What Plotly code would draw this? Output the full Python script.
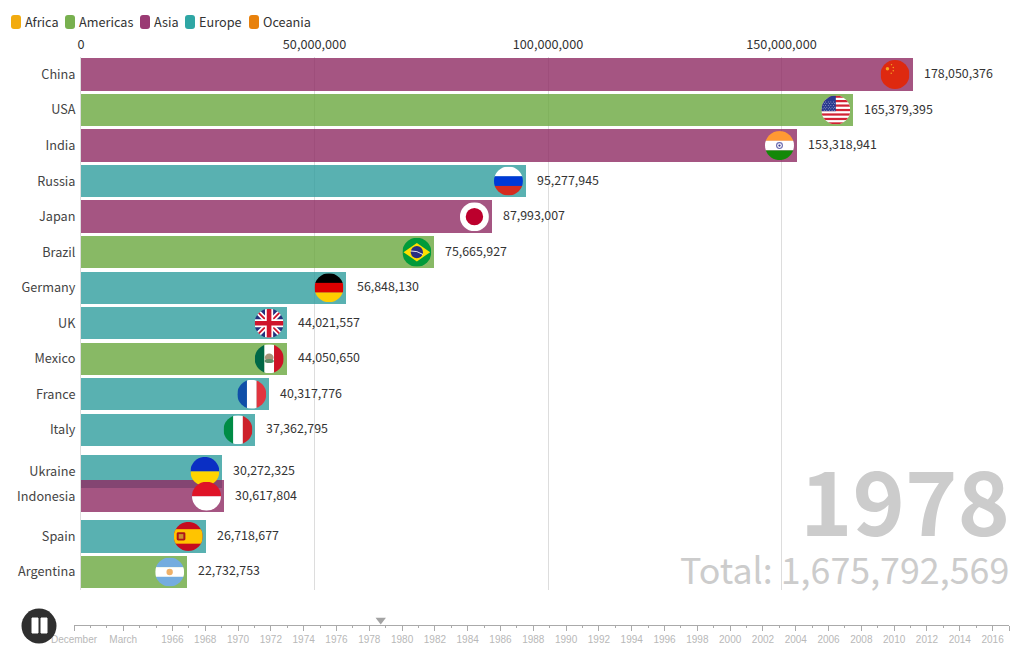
# -*- coding: utf-8 -*-
import base64
import plotly.graph_objects as go

# frame of the bar chart race at 1978
countries = ["China", "USA", "India", "Russia", "Japan", "Brazil", "Germany", "UK", "Mexico",
             "France", "Italy", "Ukraine", "Indonesia", "Spain", "Argentina"]
values = [178050376, 165379395, 153318941, 95277945, 87993007, 75665927, 56848130, 44021557, 44050650,
          40317776, 37362795, 30272325, 30617804, 26718677, 22732753]
regions = ["Asia", "Americas", "Asia", "Europe", "Asia", "Americas", "Europe", "Europe", "Americas",
           "Europe", "Europe", "Europe", "Asia", "Europe", "Americas"]
# ranks are fractional because the race is caught mid-transition
ranks = [0, 1, 2, 3, 4, 5, 6, 7, 8, 9, 10, 11.17, 11.87, 13, 14]

region_names = ["Africa", "Americas", "Asia", "Europe", "Oceania"]
region_colors = ["#f2ab0f", "#78b04f", "#9a3a73", "#2fa6a4", "#e8810c"]
bar_colors = {"Africa": "#f2ab0f", "Americas": "#6aa83e", "Asia": "#8e2a63", "Europe": "#2f9d9d", "Oceania": "#e8810c"}

x_ticks = [0, 50000000, 100000000, 150000000]
year = "1978"
total_label = "Total: 1,675,792,569"

timeline_major = [1960, 1963, 1966, 1968, 1970, 1972, 1974, 1976, 1978, 1980, 1982, 1984, 1986, 1988, 1990,
                  1992, 1994, 1996, 1998, 2000, 2002, 2004, 2006, 2008, 2010, 2012, 2014, 2016, 2017]
timeline_labels = ["December", "March", "1966", "1968", "1970", "1972", "1974", "1976", "1978", "1980", "1982",
                   "1984", "1986", "1988", "1990", "1992", "1994", "1996", "1998", "2000", "2002", "2004",
                   "2006", "2008", "2010", "2012", "2014", "2016", ""]
timeline_minor = [1961, 1962, 1964, 1965, 1967, 1969, 1971, 1973, 1975, 1977, 1979, 1981, 1983, 1985, 1987,
                  1989, 1991, 1993, 1995, 1997, 1999, 2001, 2003, 2005, 2007, 2009, 2011, 2013, 2015]
timeline_now = 1978.7

W, H = 1020, 650
ML, MR, MT, MB = 74, 11, 57, 25
FONT = "Noto Sans CJK SC"
TEXT_SIZE = 12.7
VALUE_SIZE = 12.4
PX_PER_UNIT = 233.5 / 50000000
FLAG_PX = 29


def px(x):
    return (x - ML) / (W - ML - MR)


def py(y):
    return 1 - (y - MT) / (H - MT - MB)


def stripes_h(*cols):
    h = 100 / len(cols)
    return "".join(f'<rect y="{i*h}" width="100" height="{h+0.5}" fill="{c}"/>' for i, c in enumerate(cols))


def stripes_v(*cols):
    w = 100 / len(cols)
    return "".join(f'<rect x="{i*w}" width="{w+0.5}" height="100" fill="{c}"/>' for i, c in enumerate(cols))


usa = '<rect width="100" height="100" fill="#fff"/>' + "".join(
    f'<rect y="{i*15.4}" width="100" height="7.7" fill="#d22234"/>' for i in range(7))
usa += '<rect width="50" height="54" fill="#2a3a8f"/>' + "".join(
    f'<circle cx="{6+c*9+(r%2)*4}" cy="{22+r*6}" r="1.5" fill="#fff"/>' for r in range(6) for c in range(5))

FLAGS = {
    "China": '<rect width="100" height="100" fill="#de2910"/>'
             '<circle cx="24" cy="30" r="6" fill="#f5a623"/><circle cx="38" cy="16" r="2.5" fill="#f5a623"/>'
             '<circle cx="44" cy="26" r="2.5" fill="#f5a623"/><circle cx="44" cy="37" r="2.5" fill="#f5a623"/>'
             '<circle cx="37" cy="46" r="2.5" fill="#f5a623"/>',
    "USA": usa,
    "India": stripes_h("#ff9933", "#fff", "#138808") +
             '<circle cx="50" cy="50" r="12" fill="#6c6cb0"/><circle cx="50" cy="50" r="8" fill="#fff"/>'
             '<circle cx="50" cy="50" r="4" fill="#3a3a90"/>',
    "Russia": stripes_h("#fff", "#0039d6", "#d52b1e"),
    "Japan": '<rect width="100" height="100" fill="#fff"/><circle cx="50" cy="50" r="30" fill="#bc002d"/>',
    "Brazil": '<rect width="100" height="100" fill="#009b3a"/><path d="M50 18 L96 50 L50 82 L4 50 Z" fill="#fedf00"/>'
              '<circle cx="50" cy="50" r="21" fill="#2a2f80"/>'
              '<path d="M29 46 Q50 44 71 58" stroke="#fff" stroke-width="3" fill="none"/>',
    "Germany": stripes_h("#000", "#dd0000", "#ffce00"),
    "UK": '<rect width="100" height="100" fill="#23307e"/>'
          '<path d="M0 0 L100 100 M100 0 L0 100" stroke="#fff" stroke-width="18"/>'
          '<path d="M0 0 L100 100 M100 0 L0 100" stroke="#cf142b" stroke-width="6"/>'
          '<path d="M50 0 V100 M0 50 H100" stroke="#fff" stroke-width="28"/>'
          '<path d="M50 0 V100 M0 50 H100" stroke="#cf142b" stroke-width="16"/>',
    "Mexico": stripes_v("#006847", "#fff", "#ce1126") +
              '<ellipse cx="50" cy="46" rx="15" ry="14" fill="#a8957a"/><ellipse cx="50" cy="58" rx="16" ry="7" fill="#5f8f6a"/>',
    "France": stripes_v("#0f4fa8", "#fff", "#e1353f"),
    "Italy": stripes_v("#008c45", "#fff", "#cd212a"),
    "Ukraine": stripes_h("#0a2fc4", "#ffd500"),
    "Indonesia": stripes_h("#df1327", "#fff"),
    "Spain": '<rect width="100" height="100" fill="#c60b1e"/><rect y="25" width="100" height="50" fill="#ffc400"/>'
             '<rect x="10" y="36" width="30" height="28" rx="5" fill="#ad1519"/>'
             '<rect x="17" y="42" width="16" height="16" fill="#c9922e"/>',
    "Argentina": stripes_h("#74acdf", "#fff", "#74acdf") + '<circle cx="50" cy="50" r="11" fill="#f0b168"/>',
}


def flag_source(body):
    svg = ('<svg xmlns="http://www.w3.org/2000/svg" viewBox="0 0 100 100">'
           '<defs><clipPath id="c"><circle cx="50" cy="50" r="50"/></clipPath></defs>'
           f'<g clip-path="url(#c)">{body}</g></svg>')
    return "data:image/svg+xml;base64," + base64.b64encode(svg.encode()).decode()


x_max = (W - MR - 81) / PX_PER_UNIT
y_step = (590 - MT) / 15
y_top = -(74.5 - MT) / y_step
y_bottom = y_top + 15

fig = go.Figure()
fig.add_trace(go.Bar(
    x=values, y=ranks, orientation="h", width=0.91,
    marker=dict(color=[bar_colors[r] for r in regions], opacity=0.8, line_width=0),
    customdata=countries, hovertemplate="%{customdata}: %{x:,}<extra></extra>",
    showlegend=False,
))
# timeline marker, on its own little axis pair under the chart
fig.add_trace(go.Scatter(
    x=[timeline_now], y=[0.2], xaxis="x2", yaxis="y2", mode="markers", hoverinfo="skip",
    marker=dict(symbol="triangle-down", size=9, color="#a3a3a3"), showlegend=False,
))

images = []
for name, val, rk in zip(countries, values, ranks):
    images.append(dict(
        source=flag_source(FLAGS[name]), xref="x", yref="y",
        x=val - 3 / PX_PER_UNIT, y=rk, xanchor="right", yanchor="middle",
        sizex=FLAG_PX / PX_PER_UNIT, sizey=FLAG_PX / y_step, sizing="stretch", layer="above",
    ))

annotations = []
for val, rk in zip(values, ranks):
    annotations.append(dict(
        x=val, y=rk, xref="x", yref="y", text=f"{val:,}", showarrow=False, xanchor="left", xshift=9, yshift=1.5,
        font=dict(family=FONT, size=VALUE_SIZE, color="#333333"),
    ))
annotations.append(dict(
    x=px(1012), y=py(497), xref="paper", yref="paper", text=f"<b>{year}</b>", showarrow=False,
    xanchor="right", yanchor="middle", font=dict(family=FONT, size=89, color="#cccccc"),
))
annotations.append(dict(
    x=px(1011), y=py(568), xref="paper", yref="paper", text=total_label, showarrow=False,
    xanchor="right", yanchor="middle", font=dict(family=FONT, size=35.8, color="#cccccc"),
))

# legend is drawn by hand because the swatches are rounded
shapes = []
swatch_left = [11, 65, 140, 185, 249]
for name, col, left in zip(region_names, region_colors, swatch_left):
    x0, x1, y0, y1, r = left, left + 10, 15, 29, 3
    path = (f"M{px(x0+r)} {py(y0)} L{px(x1-r)} {py(y0)} Q{px(x1)} {py(y0)} {px(x1)} {py(y0+r)} "
            f"L{px(x1)} {py(y1-r)} Q{px(x1)} {py(y1)} {px(x1-r)} {py(y1)} L{px(x0+r)} {py(y1)} "
            f"Q{px(x0)} {py(y1)} {px(x0)} {py(y1-r)} L{px(x0)} {py(y0+r)} Q{px(x0)} {py(y0)} {px(x0+r)} {py(y0)} Z")
    shapes.append(dict(type="path", xref="paper", yref="paper", path=path, fillcolor=col, line_width=0))
    annotations.append(dict(
        x=px(left + 12), y=py(22), xref="paper", yref="paper", text=name, showarrow=False,
        xanchor="left", yanchor="middle", font=dict(family=FONT, size=TEXT_SIZE, color="#333333"),
    ))

# pause button
shapes.append(dict(type="circle", xref="paper", yref="paper", x0=px(21.5), x1=px(56.5), y0=py(643.5), y1=py(608.5),
                   fillcolor="#2f2f2f", line_width=0))
for left in (32, 41):
    shapes.append(dict(type="rect", xref="paper", yref="paper", x0=px(left), x1=px(left + 6), y0=py(633), y1=py(618),
                       fillcolor="#ffffff", line=dict(color="#ffffff", width=1)))

fig.update_layout(
    width=W, height=H,
    margin=dict(l=ML, r=MR, t=MT, b=MB, pad=0),
    paper_bgcolor="#ffffff", plot_bgcolor="#ffffff",
    font=dict(family=FONT, size=TEXT_SIZE, color="#333333"),
    showlegend=False,
    bargap=0,
    images=images, annotations=annotations, shapes=shapes,
    xaxis=dict(
        domain=[px(81), 1], range=[0, x_max], side="top", tickvals=x_ticks, tickformat=",d", automargin=False,
        gridcolor="#dddddd", gridwidth=1, zeroline=False, showline=False, ticks="", ticklabelstandoff=4,
        tickfont=dict(family=FONT, size=TEXT_SIZE, color="#333333"), anchor="y",
    ),
    yaxis=dict(
        domain=[py(590), 1], range=[y_bottom, y_top], tickvals=ranks, ticktext=countries, automargin=False,
        showgrid=False, zeroline=False, showline=True, linecolor="#dddddd", ticks="", ticklabelstandoff=2,
        tickfont=dict(family=FONT, size=TEXT_SIZE, color="#444444"), anchor="x",
    ),
    xaxis2=dict(
        domain=[0, 1], range=[1960, 2017], anchor="y2", tickvals=timeline_major, ticktext=timeline_labels,
        ticks="outside", ticklen=5, tickcolor="#aaaaaa", tickwidth=1, showline=True, linecolor="#aaaaaa",
        showgrid=False, zeroline=False, tickangle=0, automargin=False,
        tickfont=dict(family="Liberation Sans", size=10, color="#b8b8b8"),
        minor=dict(tickvals=timeline_minor, ticks="outside", ticklen=2, tickcolor="#aaaaaa", showgrid=False),
    ),
    yaxis2=dict(domain=[0, py(600)], range=[0, 1], visible=False, anchor="x2", automargin=False),
)

fig.write_html("out.html", config=dict(displayModeBar=False),
               post_script="document.body.style.margin='0';document.body.style.overflow='hidden';")
